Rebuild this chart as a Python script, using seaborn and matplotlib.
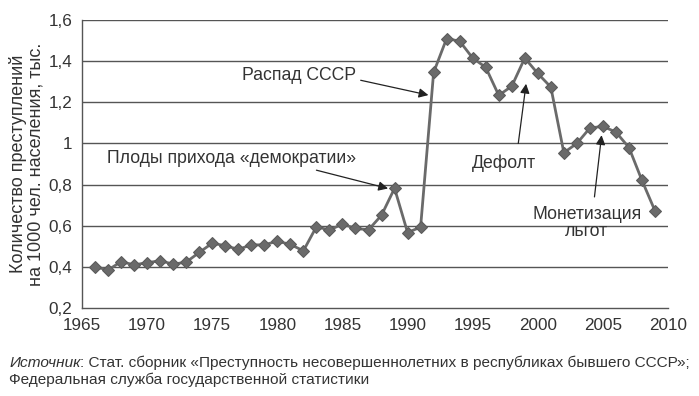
import matplotlib
matplotlib.use("Agg")
import matplotlib.pyplot as plt
import seaborn as sns
import pandas as pd
from matplotlib.ticker import FuncFormatter

years = list(range(1966, 2010))
values = [0.40, 0.385, 0.425, 0.41, 0.42, 0.43, 0.413, 0.423, 0.47, 0.515,
          0.503, 0.485, 0.507, 0.507, 0.525, 0.509, 0.478, 0.595, 0.579, 0.608,
          0.587, 0.58, 0.651, 0.782, 0.567, 0.593, 1.345, 1.51, 1.497, 1.415,
          1.37, 1.234, 1.278, 1.415, 1.34, 1.274, 0.955, 1.0, 1.075, 1.083,
          1.055, 0.98, 0.82, 0.672]

xticks = list(range(1965, 2011, 5))
yticks = [0.2, 0.4, 0.6, 0.8, 1.0, 1.2, 1.4, 1.6]

ylabel = "Количество преступлений\nна 1000 чел. населения, тыс."
source_italic = "Источник"
source_rest = ": Стат. сборник «Преступность несовершеннолетних в республиках бывшего СССР»;"
source_line2 = "Федеральная служба государственной статистики"

annotation_texts = ["Распад СССР", "Плоды прихода «демократии»", "Дефолт", "Монетизация\nльгот"]
text_positions = [(1981.7, 1.33), (1976.5, 0.928), (1997.4, 0.904), (2003.75, 0.613)]
arrow_starts = [(1986.4, 1.307), (1983.0, 0.87), (1998.5, 1.0), (2004.35, 0.74)]
arrow_ends = [(1991.6, 1.235), (1988.5, 0.781), (1999.1, 1.29), (2004.9, 1.04)]

sns.set_theme(style="white")
plt.rcParams['font.family'] = ['Liberation Sans', 'DejaVu Sans']

df = pd.DataFrame({"year": years, "value": values})

fig = plt.figure(figsize=(6.99, 3.96), dpi=100)
ax = fig.add_axes([0.1173, 0.2222, 0.8384, 0.7273])

sns.lineplot(data=df, x="year", y="value", ax=ax, color="#6a6a6a",
             marker="D", markersize=6, markeredgecolor="#5a5a5a",
             linewidth=2.0, legend=False)

ax.set_xlim(1965, 2010)
ax.set_ylim(0.2, 1.6)
ax.set_xticks(xticks)
ax.set_yticks(yticks)

def yfmt(v, pos):
    if abs(v - 1.0) < 1e-9:
        return "1"
    return ("%.1f" % v).replace(".", ",")
ax.yaxis.set_major_formatter(FuncFormatter(yfmt))

for y in yticks[1:]:
    ax.axhline(y, color="#555555", linewidth=1.0, zorder=0)

for s in ["top", "right"]:
    ax.spines[s].set_visible(False)
for s in ["left", "bottom"]:
    ax.spines[s].set_color("#555555")
    ax.spines[s].set_linewidth(1.0)

ax.tick_params(axis="both", which="major", direction="out", length=4,
               width=1, color="#555555", labelsize=12.3, labelcolor="#333333", pad=3)
ax.set_xlabel("")
ax.set_ylabel(ylabel, fontsize=13, color="#333333", labelpad=3, linespacing=1.0)

for txt, tp, st, en in zip(annotation_texts, text_positions, arrow_starts, arrow_ends):
    ax.text(tp[0], tp[1], txt, fontsize=12.7, color="#333333",
            ha="center", va="center", linespacing=1.0)
    ax.annotate("", xy=en, xytext=st,
                arrowprops=dict(arrowstyle="-|>", color="#222222", lw=0.9,
                                mutation_scale=14, shrinkA=0, shrinkB=0))

fig.canvas.draw()
r = fig.canvas.get_renderer()
fam = ['Liberation Sans Narrow', 'Liberation Sans']
t1 = fig.text(0.013, 0.083, source_italic, fontsize=11.1, style="italic",
              color="#333333", va="center", family=fam)
bb = t1.get_window_extent(renderer=r)
x2 = bb.x1 / fig.bbox.width
fig.text(x2, 0.083, source_rest, fontsize=11.1, color="#333333", va="center", family=fam)
fig.text(0.013, 0.040, source_line2, fontsize=11.1, color="#333333", va="center", family=fam)

fig.savefig("out.png", dpi=100)
